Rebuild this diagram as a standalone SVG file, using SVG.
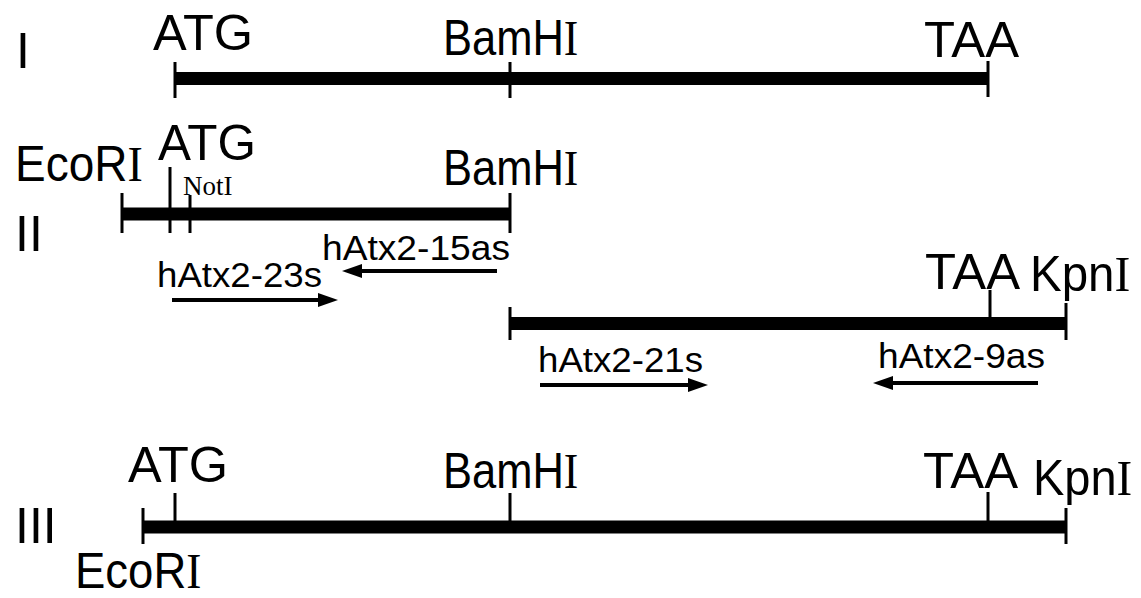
<svg xmlns="http://www.w3.org/2000/svg" width="1141" height="598" viewBox="0 0 1141 598">
<style>
.bar{stroke:#000;stroke-width:13;fill:none}
.tick{stroke:#000;stroke-width:3;fill:none}
.lbl{font-family:"Liberation Sans",Arial,sans-serif;font-size:50px;fill:#000}
.ser{font-family:"Liberation Serif","Times New Roman",serif}
.sm{font-family:"Liberation Serif","Times New Roman",serif;font-size:27px;fill:#000}
.pr{font-family:"Liberation Sans",Arial,sans-serif;font-size:35px;fill:#000}
.arr{stroke:#000;stroke-width:4;fill:none;marker-end:url(#ah)}
</style>
<defs>
<marker id="ah" markerUnits="userSpaceOnUse" markerWidth="20" markerHeight="14" refX="10" refY="7" orient="auto">
<path d="M0,0 L20,7 L0,14 z" fill="#000"/>
</marker>
</defs>
<rect width="1141" height="598" fill="#fff"/>
<g id="row1">
<line class="bar" x1="175" y1="78.5" x2="988" y2="78.5"/>
<line class="tick" x1="175" y1="62" x2="175" y2="98"/>
<line class="tick" x1="510" y1="62" x2="510" y2="98"/>
<line class="tick" x1="988" y1="61" x2="988" y2="97"/>
<text class="lbl" x="16" y="68">I</text>
<text class="lbl" x="153" y="50" textLength="100" lengthAdjust="spacingAndGlyphs">ATG</text>
<text class="lbl" transform="translate(443,55) scale(0.87,1)">BamH<tspan class="ser">I</tspan></text>
<text class="lbl" x="924" y="57" textLength="95" lengthAdjust="spacingAndGlyphs">TAA</text>
</g>
<g id="row2">
<line class="bar" x1="122" y1="214" x2="510" y2="214"/>
<line class="tick" x1="122" y1="193" x2="122" y2="233"/>
<line class="tick" x1="170" y1="167" x2="170" y2="233"/>
<line class="tick" x1="190" y1="195" x2="190" y2="233"/>
<line class="tick" x1="510" y1="193" x2="510" y2="233"/>
<text class="lbl" x="15" y="251">II</text>
<text class="lbl" transform="translate(15,181) scale(0.92,1)">EcoR<tspan class="ser">I</tspan></text>
<text class="lbl" x="158" y="160" textLength="98" lengthAdjust="spacingAndGlyphs">ATG</text>
<text class="sm" x="183" y="195">NotI</text>
<text class="lbl" transform="translate(443,185) scale(0.87,1)">BamH<tspan class="ser">I</tspan></text>
</g>
<g id="row2b">
<line class="bar" x1="510" y1="323.5" x2="1066" y2="323.5"/>
<line class="tick" x1="510" y1="307" x2="510" y2="340"/>
<line class="tick" x1="990" y1="290" x2="990" y2="323"/>
<line class="tick" x1="1066" y1="303" x2="1066" y2="340"/>
<text class="lbl" x="925" y="289" textLength="95" lengthAdjust="spacingAndGlyphs">TAA</text>
<text class="lbl" transform="translate(1030,291) scale(0.95,1)">Kpn<tspan class="ser">I</tspan></text>
</g>
<g id="row3">
<line class="bar" x1="143" y1="527" x2="1066" y2="527"/>
<line class="tick" x1="143" y1="508" x2="143" y2="544"/>
<line class="tick" x1="175" y1="493" x2="175" y2="527"/>
<line class="tick" x1="510" y1="493" x2="510" y2="527"/>
<line class="tick" x1="988" y1="492" x2="988" y2="527"/>
<line class="tick" x1="1066" y1="508" x2="1066" y2="544"/>
<text class="lbl" x="15" y="543">III</text>
<text class="lbl" x="128" y="482" textLength="100" lengthAdjust="spacingAndGlyphs">ATG</text>
<text class="lbl" transform="translate(443,488) scale(0.87,1)">BamH<tspan class="ser">I</tspan></text>
<text class="lbl" x="923" y="488" textLength="95" lengthAdjust="spacingAndGlyphs">TAA</text>
<text class="lbl" transform="translate(1033,495) scale(0.94,1)">Kpn<tspan class="ser">I</tspan></text>
<text class="lbl" transform="translate(75,588) scale(0.91,1)">EcoR<tspan class="ser">I</tspan></text>
</g>
<g id="primers">
<text class="pr" x="322" y="260" textLength="188" lengthAdjust="spacingAndGlyphs">hAtx2-15as</text>
<text class="pr" x="157" y="287" textLength="165" lengthAdjust="spacingAndGlyphs">hAtx2-23s</text>
<text class="pr" x="538" y="372" textLength="165" lengthAdjust="spacingAndGlyphs">hAtx2-21s</text>
<text class="pr" x="878" y="368" textLength="167" lengthAdjust="spacingAndGlyphs">hAtx2-9as</text>
</g>
<g id="connectors">
<line class="arr" x1="497" y1="271" x2="352" y2="271"/>
<line class="arr" x1="172" y1="300" x2="328" y2="300"/>
<line class="arr" x1="540" y1="385" x2="698" y2="385"/>
<line class="arr" x1="1038" y1="383" x2="883" y2="383"/>
</g>
</svg>
